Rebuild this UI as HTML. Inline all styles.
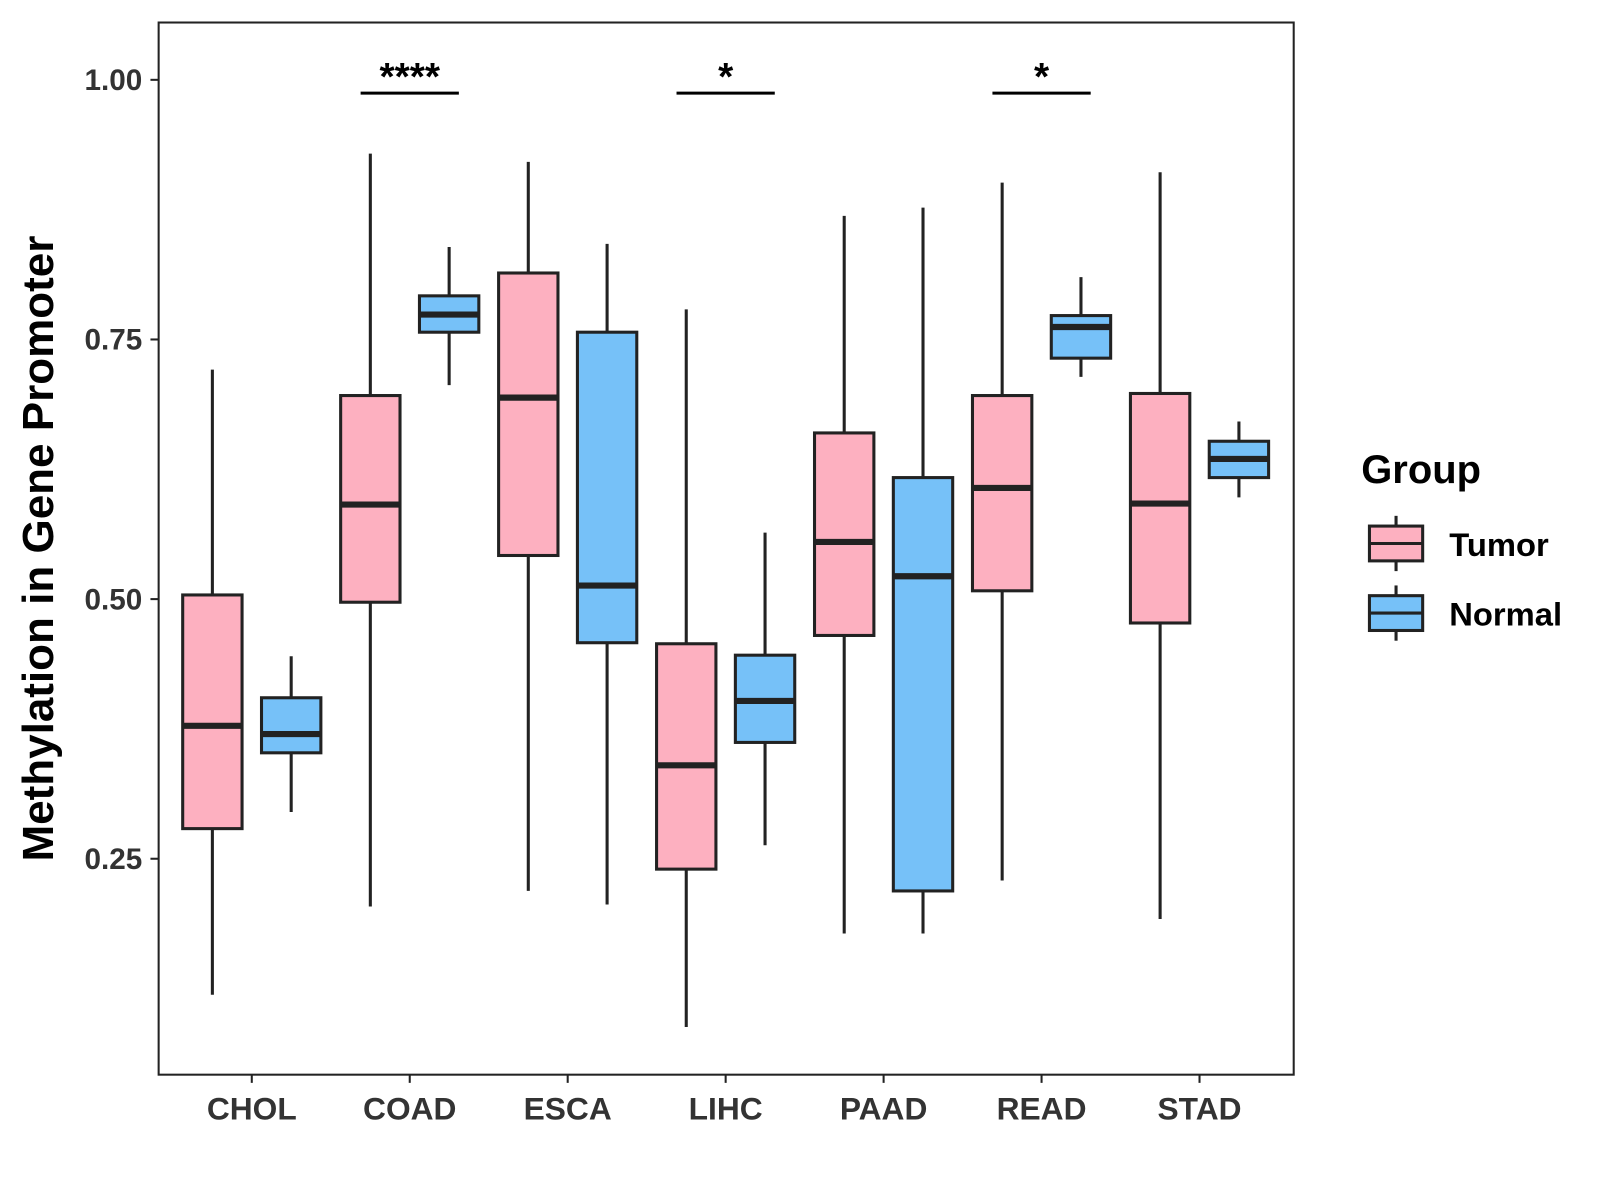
<!DOCTYPE html>
<html><head><meta charset="utf-8"><style>
html,body{margin:0;padding:0;background:#fff;}
svg{display:block;font-family:"Liberation Sans",Arial,sans-serif;}
</style></head><body>
<svg id="chart" width="1600" height="1200" viewBox="0 0 1600 1200">
<g transform="scale(1.0235)">
<rect x="155" y="22" width="1109" height="1028" fill="#fff" stroke="#222" stroke-width="2"/>
<g id="marks"></g>
<g id="axes"></g>
<text transform="translate(52,536) rotate(-90)" text-anchor="middle" font-size="43" font-weight="bold" fill="#000">Methylation in Gene Promoter</text>
<g>
<text x="1330" y="472" font-size="39" font-weight="bold" fill="#000">Group</text>
<g>
<line x1="1364" y1="504" x2="1364" y2="558" stroke="#222" stroke-width="3"/>
<rect x="1338" y="514" width="52" height="34" fill="#FDB0C0" stroke="#222" stroke-width="3"/>
<line x1="1338" y1="531" x2="1390" y2="531" stroke="#222" stroke-width="3"/>
<text x="1416" y="543" font-size="32" font-weight="bold" fill="#000">Tumor</text>
</g>
<g>
<line x1="1364" y1="572" x2="1364" y2="626" stroke="#222" stroke-width="3"/>
<rect x="1338" y="582" width="52" height="34" fill="#76C1F8" stroke="#222" stroke-width="3"/>
<line x1="1338" y1="599" x2="1390" y2="599" stroke="#222" stroke-width="3"/>
<text x="1416" y="611" font-size="32" font-weight="bold" fill="#000">Normal</text>
</g>
</g>
</g>
</svg>
<script>
const categories = ["CHOL","COAD","ESCA","LIHC","PAAD","READ","STAD"];
// [min, q1, median, q3, max]
const tumorStats = [
 [0.119,0.279,0.378,0.504,0.721],
 [0.204,0.497,0.591,0.696,0.929],
 [0.219,0.542,0.694,0.814,0.921],
 [0.088,0.240,0.340,0.457,0.779],
 [0.178,0.465,0.555,0.660,0.869],
 [0.229,0.508,0.607,0.696,0.901],
 [0.192,0.477,0.592,0.698,0.911]];
const normalStats = [
 [0.295,0.352,0.370,0.405,0.445],
 [0.706,0.757,0.774,0.792,0.839],
 [0.206,0.458,0.513,0.757,0.842],
 [0.263,0.362,0.402,0.446,0.564],
 [0.178,0.219,0.522,0.617,0.877],
 [0.714,0.732,0.762,0.773,0.810],
 [0.598,0.617,0.635,0.652,0.671]];
const yTicks = [0.25,0.50,0.75,1.00];
const yTickLabels = ["0.25","0.50","0.75","1.00"];
const sigCategories = ["COAD","LIHC","READ"];
const sigLabels = ["****","*","*"];

const NS="http://www.w3.org/2000/svg";
const y = v => 78 + (1 - v) * 1014.7;
const x = i => 246 + i * 154.33;
function mk(tag, attrs, parent){const e=document.createElementNS(NS,tag);for(const k in attrs)e.setAttribute(k,attrs[k]);parent.appendChild(e);return e;}
const marks=document.getElementById('marks'), axes=document.getElementById('axes');
function box(cx, s, fill, name){
  const g=mk('g',{},marks);
  
  
  mk('line',{x1:cx,x2:cx,y1:y(s[4]),y2:y(s[0]),stroke:'#222','stroke-width':3},g);
  mk('rect',{x:cx-29,y:y(s[3]),width:58,height:y(s[1])-y(s[3]),fill:fill,stroke:'#222','stroke-width':3},g);
  mk('line',{x1:cx-29,x2:cx+29,y1:y(s[2]),y2:y(s[2]),stroke:'#222','stroke-width':6},g);
}
categories.forEach((c,i)=>{
  box(x(i)-38.5, tumorStats[i], '#FDB0C0', 'box-tumor-'+c.toLowerCase());
  box(x(i)+38.5, normalStats[i], '#76C1F8', 'box-normal-'+c.toLowerCase());
  mk('line',{x1:x(i),x2:x(i),y1:1050,y2:1058,stroke:'#222','stroke-width':2},axes);
  const t=mk('text',{x:x(i),y:1094,'text-anchor':'middle','font-size':31,'font-weight':'bold',fill:'#333'},axes);
  t.textContent=c;
  
  
});
yTicks.forEach((v,i)=>{
  mk('line',{x1:147,x2:155,y1:y(v),y2:y(v),stroke:'#222','stroke-width':2},axes);
  const t=mk('text',{x:139,y:y(v)+10,'text-anchor':'end','font-size':29,'font-weight':'bold',fill:'#333'},axes);
  t.textContent=yTickLabels[i];
  
  
});
sigCategories.forEach((c,k)=>{
  const i=categories.indexOf(c);
  const g=mk('g',{},marks);
  
  
  mk('line',{x1:x(i)-48,x2:x(i)+48,y1:91,y2:91,stroke:'#000','stroke-width':3},g);
  const t=mk('text',{x:x(i),y:88,'text-anchor':'middle','font-size':38,'font-weight':'bold',fill:'#000'},g);
  t.textContent=sigLabels[k];
});
</script>
</body></html>
